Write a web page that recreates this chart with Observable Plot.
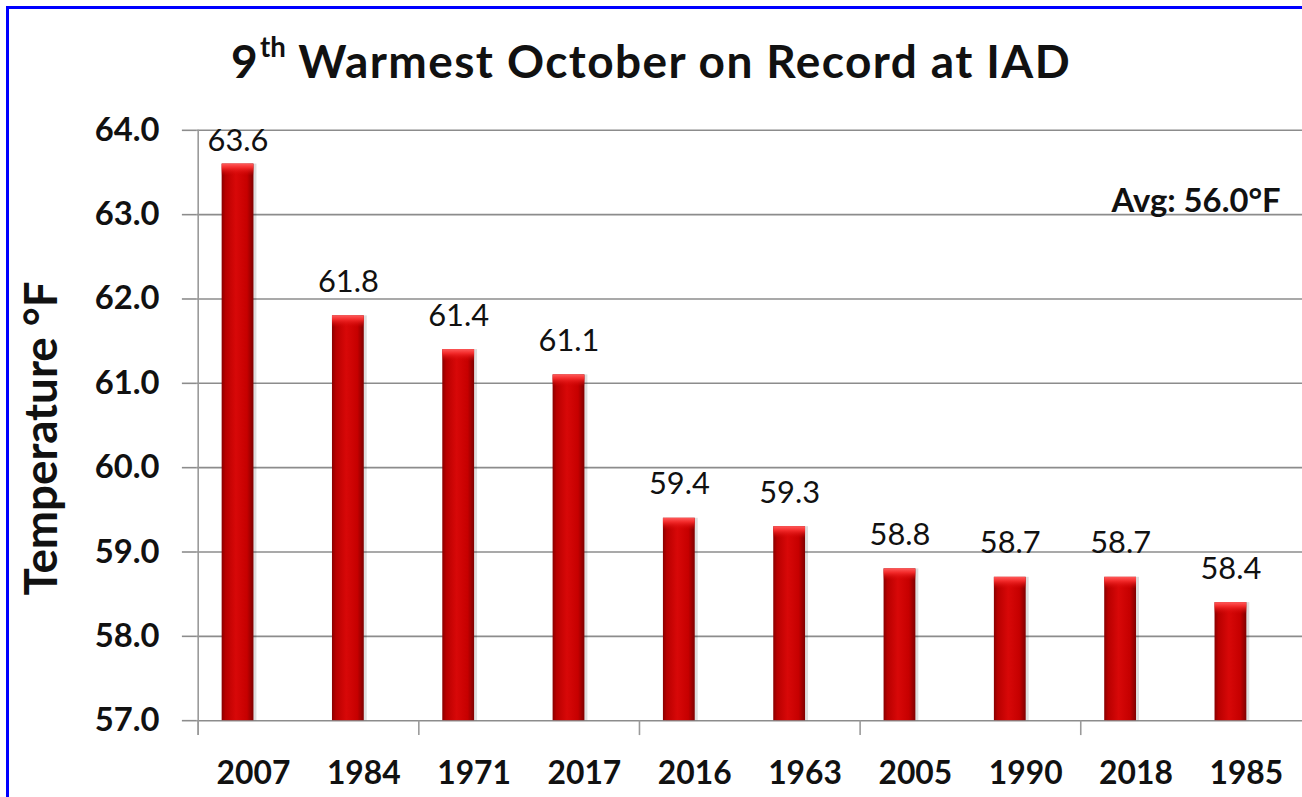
<!DOCTYPE html>
<html>
<head>
<meta charset="utf-8">
<script src="https://cdn.jsdelivr.net/npm/d3@7"></script>
<script src="https://cdn.jsdelivr.net/npm/@observablehq/plot@0.6"></script>
<style>
  html, body { margin: 0; padding: 0; background: #fff; overflow: hidden; }
  #wrap { position: relative; width: 1302px; height: 797px; overflow: hidden; background: #fff; }
  #border { position: absolute; left: 6px; top: 6px; width: 1400px; height: 900px;
            border-left: 3px solid #0000ff; border-top: 3px solid #0000ff; box-sizing: border-box; pointer-events: none; z-index: 5; }
  #title { position: relative; height: 100px; width: 1302px; text-align: center;
           font-family: Lato, "Open Sans", sans-serif; font-weight: bold; font-size: 46px; letter-spacing: 1.4px; color: #111;
           line-height: 100px; padding-top: 11px; box-sizing: border-box; white-space: nowrap; }
  #title sup { font-size: 0.6em; vertical-align: 0; position: relative; top: -0.75em; margin-left: 1px; letter-spacing: 0; }
  #chart svg { display: block; }
</style>
</head>
<body>
<div id="wrap">
  <div id="border"></div>
  <div id="title">9<sup>th</sup> Warmest October on Record at IAD</div>
  <div id="chart"></div>
</div>
<script>
// ---- data ----
const years  = ["2007", "1984", "1971", "2017", "2016", "1963", "2005", "1990", "2018", "1985"];
const temps  = [63.6, 61.8, 61.4, 61.1, 59.4, 59.3, 58.8, 58.7, 58.7, 58.4];
const yTicks = [57, 58, 59, 60, 61, 62, 63, 64];
const xTickYears = ["2007", "1971", "2016", "2005", "2018"];
const yAxisTitle = "Temperature °F";
const avgLabel = "Avg: 56.0°F";
const avgAnchor = 63;

const data = years.map((y, i) => ({year: y, value: temps[i]}));

// ---- layout ----
const W = 1310, H = 697;
const mL = 198, mR = 0, mT = 30, mB = 73;
const step = (W - mL - mR) / years.length;
const inL = 24, inR = 55;
const barOffset = (inL + (step - inL - inR) / 2) - step / 2;
const yMin = yTicks[0], yMax = yTicks[yTicks.length - 1];
const pxPerUnit = (H - mT - mB) / (yMax - yMin);

const svg = Plot.plot({
  width: W, height: H,
  marginLeft: mL, marginRight: mR, marginTop: mT, marginBottom: mB,
  style: {fontFamily: "Lato, 'Open Sans', sans-serif", color: "#111", background: "transparent", overflow: "visible"},
  x: {type: "band", domain: years, padding: 0, label: null},
  y: {domain: [yMin, yMax], label: null},
  marks: [
    Plot.gridY(yTicks, {stroke: "#8c8c8c", strokeOpacity: 1, strokeWidth: 1.6}),
    // shadow
    Plot.barY(data, {x: "year", y1: yMin, y2: "value", insetLeft: inL, insetRight: inR, dx: 3, fill: "#000", fillOpacity: 0.13}),
    // bars
    Plot.barY(data, {x: "year", y1: yMin, y2: "value", insetLeft: inL, insetRight: inR, fill: "url(#barGrad)"}),
    // bevel caps
    Plot.barY(data, {x: "year", y1: d => d.value - 12 / pxPerUnit, y2: "value", insetLeft: inL, insetRight: inR, fill: "url(#capGrad)"}),
    // y axis line
    Plot.ruleX([years[0]], {x: d => d, y1: yMax, y2: yMin - 15 / pxPerUnit, dx: -step / 2, stroke: "#9a9a9a", strokeWidth: 1.6}),
    // x tick marks at category boundaries
    Plot.ruleX(xTickYears, {x: d => d, y1: yMin, y2: yMin - 15 / pxPerUnit, dx: -step / 2, stroke: "#9a9a9a", strokeWidth: 1.6}),
    Plot.axisY({ticks: yTicks, tickFormat: d => d.toFixed(1), tickSize: 15, tickPadding: 23,
                fontSize: 33, fontWeight: "bold", stroke: "#8c8c8c", strokeWidth: 1.6, label: null}),
    Plot.axisX({tickSize: 0, tickPadding: 41, fontSize: 32, fontWeight: "bold", label: null}),
    // value labels
    Plot.text(data, {x: "year", y: d => Math.min(d.value + 34 / pxPerUnit, yMax - 11 / pxPerUnit), text: d => d.value.toFixed(1),
                     dx: barOffset, fontSize: 31, fill: "#111", lineAnchor: "middle"}),
    // average annotation
    Plot.text([avgLabel], {y: () => avgAnchor, text: d => d, frameAnchor: "right", textAnchor: "end",
                           lineAnchor: "bottom", dx: -22, dy: -3, fontSize: 33, fontWeight: "bold", fill: "#111"}),
    // y axis title
    Plot.text([yAxisTitle], {y: () => (yMin + yMax) / 2, text: d => d, frameAnchor: "left", textAnchor: "middle",
                             lineAnchor: "middle", rotate: -90, dx: 42 - mL, dy: 13, fontSize: 46, fontWeight: "bold", fill: "#111"})
  ]
});

const ns = "http://www.w3.org/2000/svg";
const defs = document.createElementNS(ns, "defs");
defs.innerHTML = `
  <linearGradient id="barGrad" x1="0" x2="1" y1="0" y2="0">
    <stop offset="0" stop-color="#8a0000"/>
    <stop offset="0.12" stop-color="#b80000"/>
    <stop offset="0.45" stop-color="#d80808"/>
    <stop offset="0.8" stop-color="#c60000"/>
    <stop offset="1" stop-color="#800000"/>
  </linearGradient>
  <linearGradient id="capGrad" x1="0" x2="0" y1="0" y2="1">
    <stop offset="0" stop-color="#ff5a5a"/>
    <stop offset="0.35" stop-color="#f22a2a"/>
    <stop offset="1" stop-color="#d40606" stop-opacity="0"/>
  </linearGradient>`;
svg.prepend(defs);
document.getElementById("chart").appendChild(svg);
</script>
</body>
</html>
